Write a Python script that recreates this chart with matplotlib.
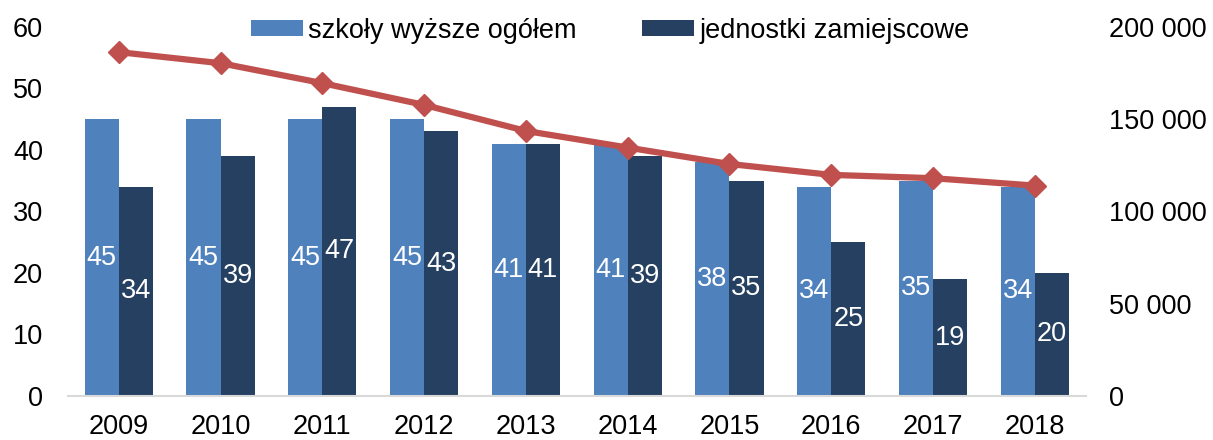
import matplotlib
matplotlib.use('Agg')
import matplotlib.pyplot as plt
import numpy as np
from matplotlib.ticker import FuncFormatter

plt.rcParams['font.family'] = ['Liberation Sans', 'DejaVu Sans']

years = ['2009', '2010', '2011', '2012', '2013', '2014', '2015', '2016', '2017', '2018']
szkoly = [45, 45, 45, 45, 41, 41, 38, 34, 35, 34]
jednostki = [34, 39, 47, 43, 41, 39, 35, 25, 19, 20]
studenci = [186300, 180300, 169500, 157700, 143600, 134600, 125700, 119800, 118000, 114000]

c_light = '#4F81BD'
c_dark = '#254061'
c_line = '#C0504D'
fs = 19.5

fig = plt.figure(figsize=(12.13, 4.4), dpi=100)
ax = fig.add_axes([0.056, 0.1, 0.839, 0.839])
ax2 = ax.twinx()

x = np.arange(len(years))
w = 0.335
b1 = ax.bar(x - w / 2, szkoly, w, color=c_light, label='szkoły wyższe ogółem')
b2 = ax.bar(x + w / 2, jednostki, w, color=c_dark, label='jednostki zamiejscowe')
ax.bar_label(b1, label_type='center', color='white', fontsize=fs)
ax.bar_label(b2, label_type='center', color='white', fontsize=fs)

ax2.plot(x, studenci, color=c_line, lw=4.5, marker='D', markersize=11)

ax.set_xlim(-0.5, len(years) - 0.5)
ax.set_ylim(0, 60)
ax.set_yticks(range(0, 61, 10))
ax2.set_ylim(0, 200000)
ax2.set_yticks(range(0, 200001, 50000))
ax2.yaxis.set_major_formatter(FuncFormatter(lambda v, p: f'{int(v):,}'.replace(',', ' ')))

ax.set_xticks(x)
ax.set_xticklabels(years)

for a in (ax, ax2):
    for s in a.spines.values():
        s.set_visible(False)
    a.tick_params(length=0, labelsize=fs)
ax.spines['bottom'].set_visible(True)
ax.spines['bottom'].set_color('#D9D9D9')
ax.spines['bottom'].set_linewidth(1.5)
ax.tick_params(axis='x', pad=13)
ax.tick_params(axis='y', pad=18)
ax2.tick_params(axis='y', pad=17)

ax.legend(loc='center', bbox_to_anchor=(0.533, 0.99), ncol=2, frameon=False,
          fontsize=fs, handlelength=1.93, handleheight=0.53, columnspacing=2.4,
          handletextpad=0.19, borderpad=0)

fig.savefig('out.png', dpi=100)
